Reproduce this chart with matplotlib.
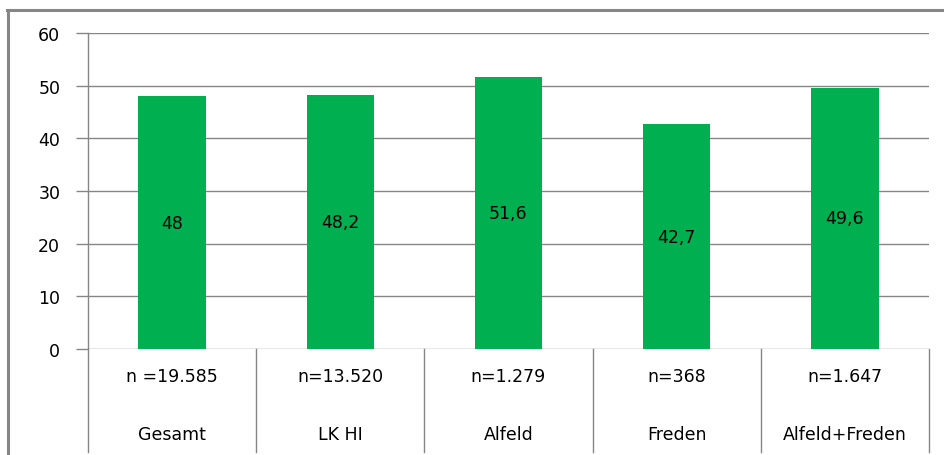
import matplotlib
matplotlib.use("Agg")
import matplotlib.pyplot as plt
from matplotlib.lines import Line2D

categories = ["Gesamt", "LK HI", "Alfeld", "Freden", "Alfeld+Freden"]
n_labels = ["n =19.585", "n=13.520", "n=1.279", "n=368", "n=1.647"]
values = [48, 48.2, 51.6, 42.7, 49.6]
value_labels = ["48", "48,2", "51,6", "42,7", "49,6"]
yticks = [0, 10, 20, 30, 40, 50, 60]

W, H = 945, 456
fig = plt.figure(figsize=(W / 100, H / 100), dpi=100)
plt.rcParams['font.family'] = ['DejaVu Sans']
FS = 12.5

grey = "#868686"
x0, x1, ytop, ybot = 88, 929, 34, 350
ax = fig.add_axes([x0 / W, (H - ybot) / H, (x1 - x0) / W, (ybot - ytop) / H])

xs = list(range(len(categories)))
ax.bar(xs, values, width=0.4, color="#00B050", zorder=3)
for x, v, lab in zip(xs, values, value_labels):
    ax.text(x, v / 2, lab, ha="center", va="center", fontsize=FS, color="black", zorder=4)

ax.set_xlim(-0.5, len(categories) - 0.5)
ax.set_ylim(0, 60)
ax.set_yticks(yticks)
ax.set_yticklabels([str(t) for t in yticks], fontsize=FS)
ax.tick_params(axis="y", length=9, width=1, color=grey, pad=11)
ax.set_xticks([])
ax.yaxis.grid(True, color=grey, linewidth=1, zorder=1)
for s in ["top", "right", "bottom"]:
    ax.spines[s].set_visible(False)
ax.spines["left"].set_color(grey)
ax.spines["left"].set_linewidth(1)

# category table below axis
trans = ax.get_xaxis_transform()
low = (ybot - 453) / (ybot - ytop)
for i in range(len(categories) + 1):
    ax.plot([i - 0.5, i - 0.5], [0, low], transform=trans, color=grey, lw=1, clip_on=False)
ny = (ybot - 377) / (ybot - ytop)
cy = (ybot - 435) / (ybot - ytop)
for x, nl, c in zip(xs, n_labels, categories):
    ax.text(x, ny, nl, transform=trans, ha="center", va="center", fontsize=FS)
    ax.text(x, cy, c, transform=trans, ha="center", va="center", fontsize=FS)

# outer chart border (left and top visible)
fig.add_artist(Line2D([8.5 / W, 8.5 / W], [0, 1 - 11 / H], color=grey, lw=2.2))
fig.add_artist(Line2D([7.5 / W, 1], [1 - 11 / H, 1 - 11 / H], color=grey, lw=2.2))

fig.savefig("out.png", dpi=100)
